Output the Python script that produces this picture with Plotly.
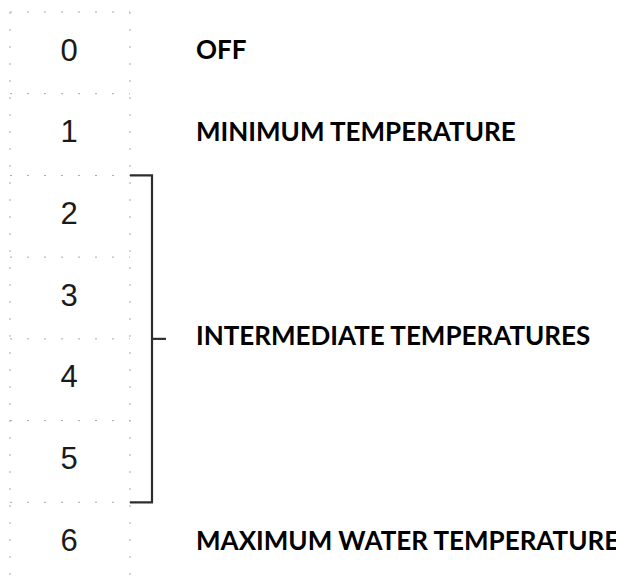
import plotly.graph_objects as go

# Data
levels = [0, 1, 2, 3, 4, 5, 6]
level_labels = ["0", "1", "2", "3", "4", "5", "6"]
descriptions = ["OFF", "MINIMUM TEMPERATURE", "INTERMEDIATE TEMPERATURES", "MAXIMUM WATER TEMPERATURE"]
description_levels = [0, 1, 3.5, 6]
bracket_span = [2, 5]

# page body has an 8px margin; figure is sized to the visible area
OFF = 8
W, H = 624 - OFF, 580 - OFF
grid_left, grid_right = 10, 130
num_x = 69
label_x = 196
br_x = 152

fig = go.Figure()

grid_style = dict(color="#a8a8a8", width=1, dash="2px,15px")
bounds = [l - 0.5 for l in levels] + [levels[-1] + 0.5]
for b in bounds:
    fig.add_trace(go.Scatter(x=[grid_left, grid_right], y=[b, b], mode="lines",
                             line=grid_style, hoverinfo="skip", showlegend=False))
for gx in [grid_left, grid_right]:
    fig.add_trace(go.Scatter(x=[gx, gx], y=[bounds[0], bounds[-1]], mode="lines",
                             line=grid_style, hoverinfo="skip", showlegend=False))

# numbers
fig.add_trace(go.Scatter(x=[num_x] * len(levels), y=levels, mode="text", text=level_labels,
                         textfont=dict(family="Liberation Sans, Arial, sans-serif", size=31, color="#1a1a1a"),
                         textposition="middle center", hoverinfo="skip", showlegend=False))

# bracket
top = bracket_span[0] - 0.5
bot = bracket_span[1] + 0.5
fig.add_trace(go.Scatter(x=[grid_right, br_x, br_x, grid_right], y=[top, top, bot, bot], mode="lines",
                         line=dict(color="#2e2e2e", width=2.2), hoverinfo="skip", showlegend=False))
mid = (top + bot) / 2
fig.add_trace(go.Scatter(x=[br_x, br_x + 14], y=[mid, mid], mode="lines",
                         line=dict(color="#2e2e2e", width=2.2), hoverinfo="skip", showlegend=False))

# descriptions
fig.add_trace(go.Scatter(x=[label_x] * len(descriptions), y=description_levels, mode="text",
                         text=descriptions, textposition="middle right",
                         textfont=dict(family="Lato, Open Sans, sans-serif", size=26, color="#000000", weight="bold"),
                         hoverinfo="skip", showlegend=False))

px_per_unit = (584 - 12) / 7.0
y_top = -0.5 - (12 - OFF) / px_per_unit
y_bot = 6.5 + (580 - 584) / px_per_unit

fig.update_layout(
    width=W, height=H,
    margin=dict(l=0, r=0, t=0, b=0),
    paper_bgcolor="white", plot_bgcolor="white",
    xaxis=dict(range=[OFF, 624], visible=False, fixedrange=True),
    yaxis=dict(range=[y_bot, y_top], visible=False, fixedrange=True),
)

fig.write_html("out.html")
